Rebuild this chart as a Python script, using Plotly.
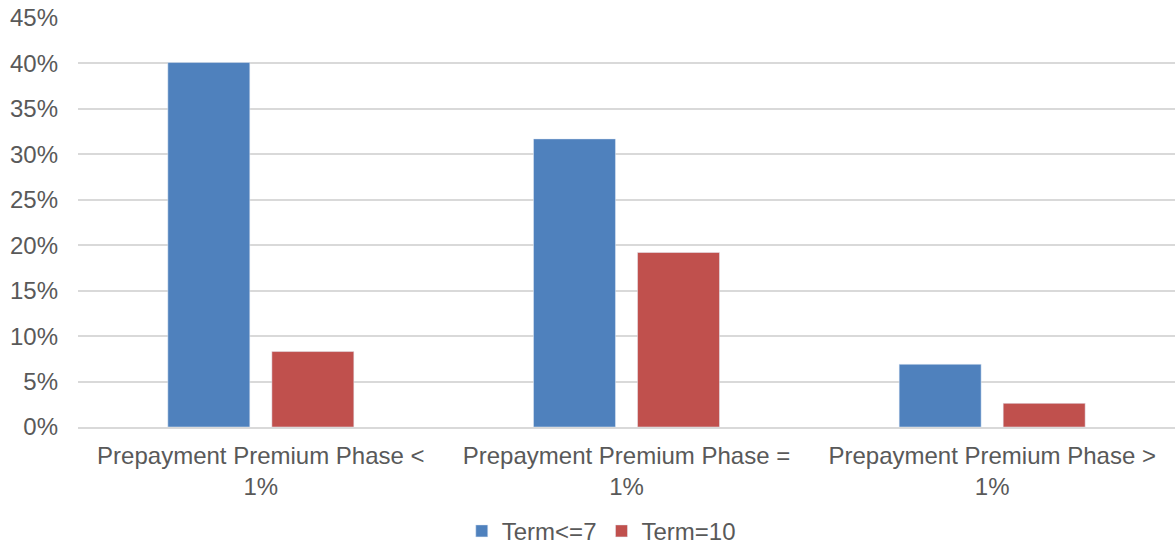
import plotly.graph_objects as go

categories = ["Prepayment Premium Phase <<br>1%", "Prepayment Premium Phase =<br>1%", "Prepayment Premium Phase ><br>1%"]
term7 = [40.1, 31.7, 6.9]
term10 = [8.3, 19.2, 2.6]
y_ticks = [0, 5, 10, 15, 20, 25, 30, 35, 40, 45]
y_tick_labels = [f"{v}%" for v in y_ticks]

FONT = "Liberation Sans, Arial, sans-serif"
TXT = "#595959"
FS = 24

fig = go.Figure()
fig.add_trace(go.Bar(name="Term<=7", x=categories, y=term7, marker=dict(color="#4F81BD")))
fig.add_trace(go.Bar(name="Term=10", x=categories, y=term10, marker=dict(color="#C0504D")))

fig.update_layout(
    width=1175, height=544,
    margin=dict(l=78, r=0, t=18, b=117, autoexpand=False),
    plot_bgcolor="white", paper_bgcolor="white",
    barmode="group", bargap=0.431, bargroupgap=0.212,
    font=dict(family=FONT, color=TXT, size=FS),
    showlegend=True,
    legend=dict(orientation="h", x=0.477, xanchor="center", y=-0.255, yanchor="middle",
                font=dict(family=FONT, color=TXT, size=FS), itemwidth=30, traceorder="normal"),
)
fig.update_yaxes(range=[0, 45], tickmode="array", tickvals=y_ticks, ticktext=y_tick_labels,
                 showgrid=True, automargin=False,
                 gridcolor="#D9D9D9", gridwidth=2, zeroline=False, showline=False,
                 tickfont=dict(size=FS, color=TXT, family=FONT), ticklabelstandoff=19)
fig.update_xaxes(showline=True, linecolor="#D9D9D9", linewidth=2, ticks="", automargin=False,
                 tickfont=dict(size=FS, color=TXT, family=FONT), ticklabelstandoff=6)

fig.write_html("out.html", config={"displayModeBar": False},
               post_script="document.body.style.margin='0';document.body.style.overflow='hidden';window.scrollTo(0,0);")
